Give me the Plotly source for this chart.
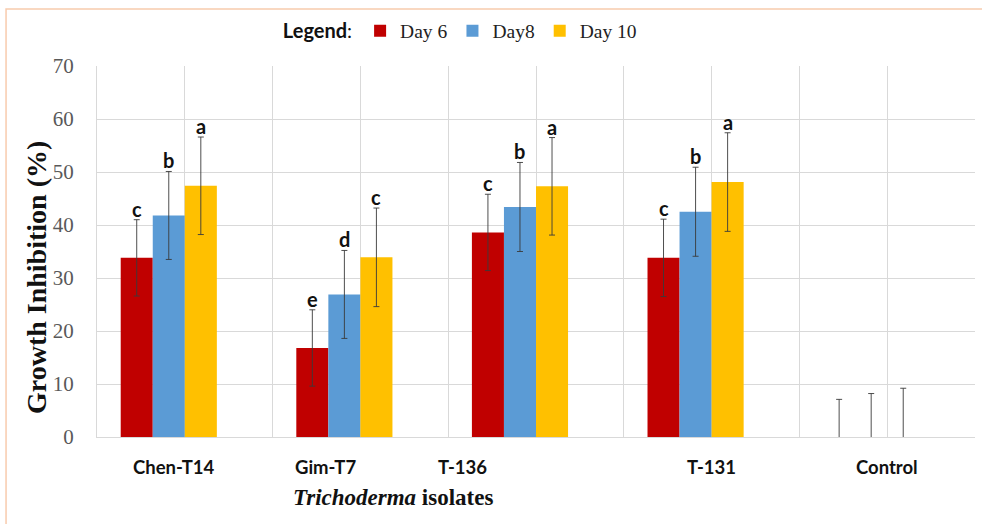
import plotly.graph_objects as go

categories = ["Chen-T14", "Gim-T7", "T-136", "T-131", "Control"]
series_names = ["Day 6", "Day8", "Day 10"]
day6 = [33.8, 16.8, 38.6, 33.8, 0]
day8 = [41.8, 26.9, 43.4, 42.5, 0]
day10 = [47.4, 33.9, 47.3, 48.1, 0]
err6 = [7.2, 7.2, 7.2, 7.3, 7.1]
err8 = [8.3, 8.3, 8.4, 8.4, 8.2]
err10 = [9.2, 9.3, 9.2, 9.3, 9.2]
letters6 = ["c", "e", "c", "c", ""]
letters8 = ["b", "d", "b", "b", ""]
letters10 = ["a", "c", "a", "a", ""]
label_pos = [-0.06, 0.8, 1.58, 3.0, 4.0]
y_ticks = [0, 10, 20, 30, 40, 50, 60, 70]

colors = ["#C00000", "#5B9BD5", "#FFC000"]
values = [day6, day8, day10]
errors = [err6, err8, err10]
letters = [letters6, letters8, letters10]

n_slots = 4
group_w = 0.73
bw = group_w / n_slots
xs = list(range(len(categories)))

fig = go.Figure()
for i in range(3):
    off = -group_w / 2 + i * bw
    fig.add_trace(go.Bar(
        x=xs, y=values[i], name=series_names[i],
        marker=dict(color=colors[i], line=dict(width=0)),
        width=bw, offset=off,
        error_y=dict(type="data", array=errors[i], visible=True,
                     color="#3a3a3a", thickness=0.9, width=3),
    ))

annotations = []
for i in range(3):
    off = -group_w / 2 + i * bw
    for j, x in enumerate(xs):
        if letters[i][j]:
            annotations.append(dict(
                x=x + off + bw / 2, y=values[i][j] + errors[i][j],
                xref="x", yref="y", text=letters[i][j], showarrow=False,
                yanchor="bottom", yshift=-3,
                font=dict(family="Lato", size=20, color="#111111", weight="bold"),
            ))

for j, c in enumerate(categories):
    annotations.append(dict(
        x=label_pos[j], y=-0.081, xref="x", yref="paper", text="<b>" + c + "</b>",
        showarrow=False, yanchor="middle",
        font=dict(family="Lato", size=18.5, color="#111111"),
    ))

annotations.append(dict(
    x=1.185, y=-0.163, xref="x", yref="paper",
    text="<b><i>Trichoderma</i> isolates</b>", showarrow=False, yanchor="middle",
    font=dict(family="Liberation Serif", size=23, color="#111111"),
))

annotations.append(dict(
    x=-0.0683, y=0.4286, xref="paper", yref="paper", textangle=-90,
    text="<b>Growth Inhibition (%)</b>", showarrow=False,
    xanchor="center", yanchor="middle",
    font=dict(family="Liberation Serif", size=28, color="#111111"),
))

fig.update_layout(
    width=982, height=524,
    margin=dict(l=97, r=7, t=66, b=87, autoexpand=False),
    paper_bgcolor="white", plot_bgcolor="white",
    showlegend=True,
    legend=dict(
        orientation="h", xref="container", yref="container",
        x=0.286, xanchor="left", y=0.978, yanchor="top",
        font=dict(family="Liberation Serif", size=19.5, color="#222222"),
        title=dict(text="<b>Legend</b>:", side="left",
                   font=dict(family="Lato", size=20, color="#111111")),
        itemwidth=30, tracegroupgap=0,
        bgcolor="rgba(0,0,0,0)",
    ),
    xaxis=dict(
        range=[-0.5, 4.5], tick0=-0.5, dtick=0.5, tickmode="linear",
        showticklabels=False, showgrid=True, gridcolor="#d9d9d9", gridwidth=1,
        zeroline=False, showline=True, linecolor="#d9d9d9", ticks="",
        automargin=False,
    ),
    yaxis=dict(
        range=[0, 70], tickvals=y_ticks, showgrid=True, gridcolor="#d9d9d9",
        gridwidth=1, zeroline=False, showline=True, linecolor="#d9d9d9",
        ticks="", ticklabelstandoff=18, automargin=False,
        tickfont=dict(family="Liberation Serif", size=21, color="#595959"),
    ),
    annotations=annotations,
    shapes=[dict(type="rect", xref="paper", yref="paper",
                 x0=-0.1036, x1=1.3, y0=-0.5, y1=1.1536,
                 line=dict(color="#F8CBAD", width=1.5), layer="below")],
)

fig.write_html("out.html", config={"displayModeBar": False},
               post_script="document.body.style.margin='0';document.body.style.overflow='hidden';")
